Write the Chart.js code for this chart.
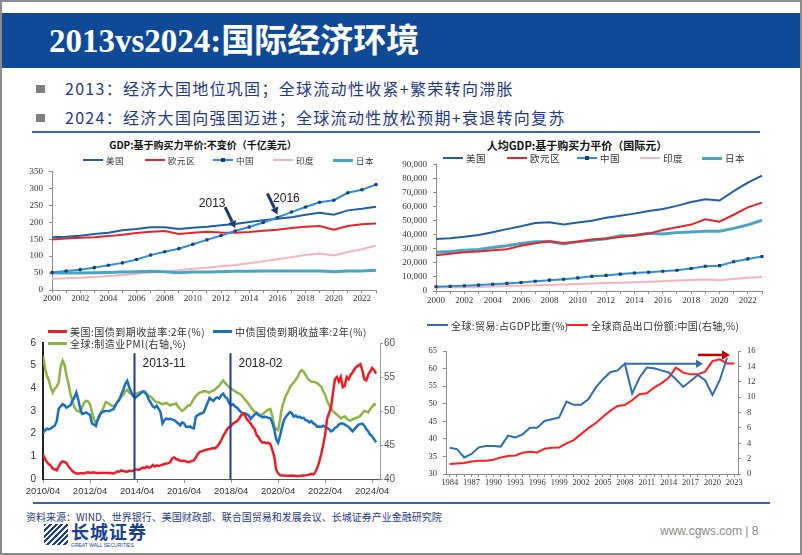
<!DOCTYPE html>
<html lang="zh-CN">
<head>
<meta charset="utf-8">
<title>2013vs2024:国际经济环境</title>
<script src="https://cdn.jsdelivr.net/npm/chart.js@4.4.1/dist/chart.umd.min.js"></script>
<style>
  body { margin: 0; background: #fff; }
  #slide { position: relative; width: 802px; height: 555px; overflow: hidden; background: #fff;
           font-family: "Noto Sans CJK SC", "Liberation Sans", sans-serif; }
  #frame { position: absolute; left: 0; top: 0; width: 802px; height: 555px; box-sizing: border-box;
           border: 2px solid #8c8c8c; z-index: 10; pointer-events: none; }
  #band { position: absolute; left: 0; top: 13px; width: 802px; height: 55px; background: #0e4a98; }
  #band h1 { position: absolute; left: 49px; top: 12px; margin: 0; color: #fff; white-space: nowrap;
             font: bold 33px/33px "Liberation Serif", "Noto Sans CJK SC", serif; }
  .bullet { position: absolute; left: 36px; width: 9px; height: 8px; background: #7f7f7f; }
  .point { position: absolute; left: 65px; font-size: 16px; line-height: 16px; letter-spacing: 1.3px;
           color: #1f3a8a; white-space: nowrap; }
  .rule { position: absolute; height: 2px; background: #3a62b0; }
  canvas { position: absolute; }
  .ctitle { position: absolute; font-weight: bold; color: #111; white-space: nowrap; transform: translateX(-50%); }
  .lg { position: absolute; display: flex; align-items: center; white-space: nowrap; color: #333; }
  .sw { position: relative; display: inline-block; margin-right: 3px; }
  .sw i { position: absolute; left: 50%; top: 50%; width: 4px; height: 4px; margin: -2px 0 0 -2px; }
  #source { position: absolute; left: 26px; top: 511px; font-size: 10px; line-height: 12px; color: #1f3a8a; white-space: nowrap; }
  #logoIcon { position: absolute; left: 44px; top: 524px; width: 24px; height: 21px;
              background: repeating-linear-gradient(135deg, #1b3f8f 0 2px, #fff 2px 4px); }
  #logoText { position: absolute; left: 71px; top: 522px; font: bold 18px/19px "Noto Sans CJK SC", sans-serif;
              color: #1b3f8f; letter-spacing: 1px; }
  #logoEn { position: absolute; left: 71px; top: 542px; font: 5px/6px "Liberation Sans", sans-serif; color: #1b3f8f; }
  #site { position: absolute; left: 660px; top: 523px; font: 12px/16px "Liberation Sans", sans-serif; color: #8a8a8a; }
</style>
</head>
<body>
<div id="slide">
  <div id="band"><h1>2013vs2024:国际经济环境</h1></div>
  <div class="bullet" style="top:85px"></div>
  <div class="point" style="top:80px">2013：经济大国地位巩固；全球流动性收紧+繁荣转向滞胀</div>
  <div class="bullet" style="top:114px"></div>
  <div class="point" style="top:109px">2024：经济大国向强国迈进；全球流动性放松预期+衰退转向复苏</div>
  <div class="rule" style="left:32px; top:131px; width:728px"></div>

  <div class="ctitle" style="left:203px; top:138px; font-size:10px; line-height:14px">GDP:基于购买力平价:不变价（千亿美元）</div>
  <div class="ctitle" style="left:577px; top:138px; font-size:11px; line-height:15px">人均GDP:基于购买力平价（国际元）</div>

  <canvas id="gdpChart" width="365" height="145" style="left:20px; top:160px"></canvas>
  <canvas id="pcChart" width="375" height="152" style="left:400px; top:153px"></canvas>
  <canvas id="bondChart" width="380" height="170" style="left:20px; top:330px"></canvas>
  <canvas id="tradeChart" width="350" height="150" style="left:410px; top:340px"></canvas>

  <div id="legends"></div>

  <div class="rule" style="left:33px; top:502px; width:737px"></div>
  <div id="source">资料来源：WIND、世界银行、美国财政部、联合国贸易和发展会议、长城证券产业金融研究院</div>
  <div id="logoIcon"></div>
  <div id="logoText">长城证券</div>
  <div id="logoEn">GREAT WALL SECURITIES</div>
  <div id="site">www.cgws.com | 8</div>
  <div id="frame"></div>
</div>

<script>
// ---------- data ----------
const years = ['2000','2001','2002','2003','2004','2005','2006','2007','2008','2009','2010','2011',
               '2012','2013','2014','2015','2016','2017','2018','2019','2020','2021','2022','2023'];

// GDP, PPP constant prices (100 bn USD)
const gdpUS    = [156,157,160,165,169,176,180,185,185,180,184,187,191,195,201,206,210,215,222,228,222,235,240,246];
const gdpEuro  = [149,152,154,156,159,163,168,172,174,165,169,172,170,169,171,175,178,183,187,189,178,189,194,196];
const gdpChina = [52,56,60,66,73,80,90,103,113,122,135,148,161,174,186,199,214,230,245,259,265,287,296,311];
const gdpIndia = [33,35,36,38,41,44,48,52,54,58,63,66,70,74,79,85,91,97,103,108,102,112,120,131];
const gdpJapan = [50,50,50,51,52,53,54,55,54,51,53,53,54,55,55,56,56,56,56,56,54,56,56,58];
const calloutYears = ['2013', '2016'];

// GDP per capita, PPP (international $)
const pcUS    = [37000,37500,38500,39800,41800,44000,46000,48300,48800,47300,48700,50000,
                 52000,53500,55000,56800,58300,60500,63200,65200,64300,71000,77000,82000];
const pcEuro  = [25500,26500,27500,28000,29000,29700,32200,34000,35300,34200,35000,36600,
                 37300,38400,39600,40800,43300,45300,47200,51000,49300,54200,59500,62800];
const pcChina = [3000,3300,3700,4200,4800,5400,6000,6900,7700,8400,9300,10400,
                 11100,12000,12800,13300,14000,14800,16000,17600,18000,20800,22800,24500];
const pcIndia = [2500,2600,2700,2900,3200,3500,3800,4100,4300,4600,5000,5400,
                 5600,5900,6200,6600,7000,7400,7800,8100,7600,8600,9400,10000];
const pcJapan = [27500,28000,29000,29500,31000,32200,33700,35000,35200,33500,35100,36000,
                 37200,39300,39500,41000,40500,41500,42000,42500,42500,44500,47000,50300];

// monthly from 2010/04 to 2024/06 (171 points each)
const bondTicks = ['2010/04','2012/04','2014/04','2016/04','2018/04','2020/04','2022/04','2024/04'];
const usYield = [
  1.07,0.9,0.74,0.65,0.58,0.45,0.42,0.38,0.55,0.7,
  0.78,0.75,0.7,0.55,0.45,0.35,0.28,0.24,0.24,0.25,
  0.25,0.24,0.28,0.3,0.28,0.28,0.3,0.26,0.26,0.26,
  0.28,0.27,0.26,0.26,0.26,0.25,0.24,0.28,0.34,0.32,
  0.38,0.35,0.33,0.32,0.36,0.35,0.36,0.42,0.42,0.4,
  0.46,0.5,0.48,0.55,0.5,0.52,0.62,0.55,0.6,0.58,
  0.6,0.63,0.66,0.68,0.7,0.75,0.92,0.95,0.88,0.85,
  0.8,0.8,0.8,0.78,0.74,0.76,0.8,0.82,0.95,1.1,
  1.2,1.22,1.25,1.28,1.3,1.32,1.35,1.36,1.36,1.45,
  1.55,1.72,1.9,2.05,2.2,2.28,2.35,2.45,2.5,2.55,
  2.65,2.8,2.88,2.82,2.65,2.55,2.45,2.3,2.2,1.95,
  1.85,1.7,1.6,1.62,1.58,1.6,1.55,1.3,1.0,0.4,
  0.25,0.17,0.15,0.15,0.14,0.14,0.14,0.15,0.14,0.13,
  0.12,0.13,0.14,0.15,0.16,0.17,0.2,0.22,0.2,0.3,
  0.5,0.75,1.1,1.5,1.95,2.65,2.9,3.15,3.8,4.4,
  4.5,4.3,4.5,4.05,4.1,4.5,4.4,4.6,4.7,4.85,
  4.95,5.0,5.07,4.8,4.4,4.35,4.6,4.75,4.9,4.8,
  4.65];
const cnYield = [
  2.02,2.15,2.22,2.2,2.22,2.3,2.35,2.55,3.1,3.2,
  3.3,3.25,3.15,3.2,3.25,3.45,3.6,3.82,3.5,3.1,
  2.87,2.9,2.94,2.88,2.83,2.45,2.4,2.33,2.65,2.85,
  2.94,2.98,3.0,3.0,3.0,3.05,3.08,3.25,3.4,3.5,
  3.75,3.94,4.2,4.33,4.05,3.85,3.65,3.58,3.65,3.72,
  3.8,3.87,3.8,3.72,3.5,3.37,3.2,3.15,3.23,3.1,
  2.94,2.45,2.6,2.66,2.64,2.66,2.62,2.6,2.52,2.45,
  2.37,2.5,2.45,2.3,2.3,2.32,2.26,2.23,2.75,2.82,
  2.87,2.9,2.94,3.15,3.35,3.58,3.5,3.45,3.55,3.6,
  3.55,3.7,3.77,3.62,3.55,3.35,3.25,3.3,3.2,3.15,
  3.05,2.95,2.9,2.9,2.85,2.8,2.65,2.75,2.85,2.9,
  2.82,2.78,2.72,2.75,2.73,2.7,2.68,2.5,2.2,1.75,
  1.6,1.9,2.3,2.6,2.75,2.85,2.95,2.9,2.75,2.8,
  2.72,2.75,2.68,2.7,2.6,2.58,2.5,2.55,2.45,2.4,
  2.3,2.32,2.3,2.35,2.3,2.25,2.2,2.1,2.15,2.25,
  2.3,2.4,2.45,2.45,2.4,2.35,2.3,2.2,2.1,2.2,
  2.3,2.4,2.42,2.44,2.35,2.2,2.1,1.95,1.88,1.75,
  1.62];
const globalPMI = [
  58.1,56.4,55.2,54.5,53.4,52.7,53.3,53.6,54.2,56.5,
  57.4,56.8,55.2,54,52.5,51.5,50.6,50.1,50,49.8,
  50.6,51.2,51.5,51.4,51,49.8,48.8,48.2,48.7,49.3,
  50,50.6,51.3,51.2,51,50.8,50.7,50.9,51.3,51.8,
  52.1,52.4,52.9,53.1,52.7,52.5,52.4,52.5,52.6,52.7,
  52.8,52.8,52.9,52.5,52.2,52.1,51.8,51.5,51.3,51.3,
  51.1,51,51.1,51.2,51,50.8,51,51,51.1,50.6,
  50.3,50,50.2,50.5,50.8,50.8,51.3,51.8,52.2,52.5,
  52.7,52.8,52.9,52.9,52.8,52.7,52.9,53,53.2,53.5,
  53.7,54.2,54.5,54.1,53.8,53.5,53.3,53.1,52.9,52.7,
  52.6,52.4,52.1,51.7,51.4,51,50.6,50.2,49.9,49.8,
  49.6,49.4,49.5,49.8,50,50.2,50.3,49.3,47.8,47.3,
  47.2,48.8,50.5,51.5,52.3,52.8,53.5,53.9,54.2,54.6,
  55,55.7,56,55.8,55.3,54.8,54.5,54.3,54.3,54.2,
  54.1,53.8,53.6,52.9,52.4,51.5,50.9,50.3,50,49.7,
  49.5,49.2,48.9,49.1,49.2,48.9,48.7,48.6,48.8,48.9,
  49,49.1,49.3,49.7,50,49.9,49.8,50.3,50.6,51,
  50.9];
const policyMarks = ['2013-11', '2018-02'];
const policyMarkAt = [46.5, 95.5];   // month index where the marker lines sit

// trade share of GDP (%) and China share of world goods exports (%)
const tradeYears = ['1984','1985','1986','1987','1988','1989','1990','1991','1992','1993',
                    '1994','1995','1996','1997','1998','1999','2000','2001','2002','2003',
                    '2004','2005','2006','2007','2008','2009','2010','2011','2012','2013',
                    '2014','2015','2016','2017','2018','2019','2020','2021','2022','2023'];
const tradeGDP = [37.5,37.1,34.7,35.7,37.6,38.0,38.0,37.8,40.9,40.4,
                  41.3,43.2,43.2,45.1,45.6,46.1,50.6,49.7,49.7,51.3,
                  54.6,57.0,59.0,59.5,61.4,52.9,57.4,60.3,60.1,59.5,
                  58.9,57.0,54.8,56.5,58.2,56.7,52.5,56.7,63.1,null];
const chinaShare = [1.3,1.38,1.43,1.64,1.73,1.73,1.86,2.16,2.33,2.42,
                    2.77,2.9,2.81,3.29,3.42,3.46,3.98,4.41,5.19,5.97,
                    6.62,7.44,8.22,8.86,8.99,9.6,10.38,10.51,11.24,11.8,
                    12.54,13.84,13.19,12.97,12.97,13.32,14.7,14.92,14.4,14.4];

// ---------- styling ----------
const C = {
    us: '#1f5fa6', euro: '#e3262b', china: '#2b8fdc', chinaMark: '#1f3f73',
    india: '#f6b3bc', japan: '#48a6c2',
    red: '#ee1c24', blue: '#1b6fc0', green: '#8fb446',
    tBlue: '#2f6db3', tRed: '#ff1f1f', arrow: '#1f3a6e'
};
const serif = 'Liberation Serif';
const sans = 'Liberation Sans';

Chart.defaults.font.family = serif;
Chart.defaults.color = '#333';

function ds(label, data, color, width, yAxisID) {
    return {
        label: label, data: data, borderColor: color, backgroundColor: color,
        borderWidth: width, pointRadius: 0, tension: 0, yAxisID: yAxisID || 'y'
    };
}

function drawArrow(ctx, x0, y0, x1, y1, color, width, head) {
    const ang = Math.atan2(y1 - y0, x1 - x0);
    const bx = x1 - head * Math.cos(ang), by = y1 - head * Math.sin(ang);
    const w = head * 0.6;
    ctx.save();
    ctx.strokeStyle = color;
    ctx.fillStyle = color;
    ctx.lineWidth = width;
    ctx.beginPath();
    ctx.moveTo(x0, y0);
    ctx.lineTo(bx, by);
    ctx.stroke();
    ctx.beginPath();
    ctx.moveTo(x1, y1);
    ctx.lineTo(bx + w * Math.sin(ang), by - w * Math.cos(ang));
    ctx.lineTo(bx - w * Math.sin(ang), by + w * Math.cos(ang));
    ctx.closePath();
    ctx.fill();
    ctx.restore();
}

function baseOptions(padding) {
    return {
        responsive: false,
        animation: false,
        devicePixelRatio: 1,
        layout: { padding: padding },
        plugins: { legend: { display: false }, tooltip: { enabled: false } }
    };
}

function sideAxis(min, max, step, width, font, extra) {
    return Object.assign({
        min: min, max: max,
        grid: { drawOnChartArea: false, tickLength: 3, color: '#8c8c8c' },
        border: { color: '#8c8c8c' },
        ticks: { stepSize: step, padding: 6, font: font, color: '#333' },
        afterFit: function(s) { s.width = width; }
    }, extra || {});
}

// ---------- legends (html) ----------
function placeLegend(items, lefts, top, fontSize, swatchW, spacing) {
    const host = document.getElementById('legends');
    items.forEach(function(it, i) {
        const el = document.createElement('div');
        el.className = 'lg';
        el.style.left = lefts[i] + 'px';
        el.style.top = (top - 8) + 'px';
        el.style.height = '16px';
        el.style.fontSize = fontSize + 'px';
        el.style.letterSpacing = (spacing || 0) + 'px';
        const sw = document.createElement('span');
        sw.className = 'sw';
        sw.style.width = swatchW + 'px';
        sw.style.height = it.width + 'px';
        sw.style.background = it.color;
        if (it.marker) {
            const m = document.createElement('i');
            m.style.background = it.marker;
            sw.appendChild(m);
        }
        el.appendChild(sw);
        el.appendChild(document.createTextNode(it.label));
        host.appendChild(el);
    });
}

document.addEventListener('DOMContentLoaded', function() {
    initGdpChart();
    initPerCapitaChart();
    initBondChart();
    initTradeChart();

    placeLegend([
        { label: '美国', color: C.us, width: 2 },
        { label: '欧元区', color: C.euro, width: 2 },
        { label: '中国', color: C.china, width: 2, marker: C.chinaMark },
        { label: '印度', color: C.india, width: 2 },
        { label: '日本', color: C.japan, width: 3 }
    ], [83, 145, 213, 273, 333], 160, 8.5, 20, 0.6);

    placeLegend([
        { label: '美国', color: C.us, width: 2 },
        { label: '欧元区', color: C.euro, width: 2 },
        { label: '中国', color: C.china, width: 2, marker: C.chinaMark },
        { label: '印度', color: C.india, width: 2 },
        { label: '日本', color: C.japan, width: 3 }
    ], [443, 507, 577, 640, 702], 158, 9.5, 20, 0.6);

    placeLegend([
        { label: '美国:国债到期收益率:2年(%)', color: C.red, width: 3 },
        { label: '中债国债到期收益率:2年(%)', color: C.blue, width: 3 }
    ], [48, 213], 331, 10, 19, 0.5);
    placeLegend([
        { label: '全球:制造业PMI(右轴,%)', color: C.green, width: 3 }
    ], [48], 343, 10, 19, 0.5);

    placeLegend([
        { label: '全球:贸易:占GDP比重(%)', color: C.tBlue, width: 2 },
        { label: '全球商品出口份额:中国(右轴,%)', color: C.tRed, width: 2 }
    ], [427, 567], 325, 10, 21, 0.4);
});

function initGdpChart() {
    const font = { family: serif, size: 9 };
    const china = ds('中国', gdpChina, C.china, 2);
    china.pointRadius = 1.8;
    china.pointBackgroundColor = C.chinaMark;
    china.pointBorderWidth = 0;

    const calloutPlugin = {
        id: 'callouts',
        afterDatasetsDraw(chart) {
            const ctx = chart.ctx, x = chart.scales.x, y = chart.scales.y;
            const textOffset = { '2013': [-23, -24], '2016': [9, -16] };
            calloutYears.forEach(function(yr) {
                const i = years.indexOf(yr);
                const tx = x.getPixelForValue(i), ty = y.getPixelForValue(gdpChina[i]) - 3;
                drawArrow(ctx, tx - 10, ty - 21, tx, ty, C.arrow, 3, 7);
                ctx.save();
                ctx.font = '12px ' + sans;
                ctx.fillStyle = '#222';
                ctx.textAlign = 'center';
                ctx.textBaseline = 'middle';
                ctx.fillText(yr, tx + textOffset[yr][0], ty + textOffset[yr][1]);
                ctx.restore();
            });
        }
    };

    new Chart(document.getElementById('gdpChart'), {
        type: 'line',
        data: {
            labels: years,
            datasets: [
                china,
                ds('美国', gdpUS, C.us, 2),
                ds('欧元区', gdpEuro, C.euro, 2),
                ds('日本', gdpJapan, C.japan, 3),
                ds('印度', gdpIndia, C.india, 2)
            ]
        },
        options: Object.assign(baseOptions({ top: 7, right: 9 }), {
            scales: {
                x: {
                    offset: false,
                    grid: { drawOnChartArea: false, tickLength: 3, color: '#8c8c8c' },
                    border: { color: '#8c8c8c' },
                    ticks: {
                        autoSkip: false, maxRotation: 0, padding: 0, font: font, color: '#333',
                        callback: function(v, i) { return i % 2 === 0 ? this.getLabelForValue(v) : ''; }
                    },
                    afterFit: function(s) { s.height = 15; }
                },
                y: sideAxis(0, 350, 50, 32, font)
            }
        }),
        plugins: [calloutPlugin]
    });
}

function initPerCapitaChart() {
    const font = { family: serif, size: 9 };
    const china = ds('中国', pcChina, C.china, 2);
    china.pointRadius = 2.2;
    china.pointStyle = 'rect';
    china.pointBackgroundColor = C.chinaMark;
    china.pointBorderWidth = 0;

    const yAxis = sideAxis(0, 90000, 10000, 36, font);
    yAxis.ticks.callback = function(v) { return v.toLocaleString('en-US'); };

    new Chart(document.getElementById('pcChart'), {
        type: 'line',
        data: {
            labels: years,
            datasets: [
                ds('美国', pcUS, C.us, 2),
                ds('欧元区', pcEuro, C.euro, 2),
                china,
                ds('日本', pcJapan, C.japan, 3),
                ds('印度', pcIndia, C.india, 2)
            ]
        },
        options: Object.assign(baseOptions({ top: 8, right: 13 }), {
            scales: {
                x: {
                    offset: false,
                    grid: { drawOnChartArea: false, tickLength: 3, color: '#8c8c8c' },
                    border: { color: '#8c8c8c' },
                    ticks: {
                        autoSkip: false, maxRotation: 0, padding: 1, font: font, color: '#333',
                        callback: function(v, i) { return i % 2 === 0 ? this.getLabelForValue(v) : ''; }
                    },
                    afterFit: function(s) { s.height = 14; }
                },
                y: yAxis
            }
        })
    });
}

function initBondChart() {
    const font = { family: sans, size: 10 };
    const toPoints = function(arr) { return arr.map(function(v, i) { return { x: i, y: v }; }); };

    const markPlugin = {
        id: 'policyMarks',
        afterDatasetsDraw(chart) {
            const ctx = chart.ctx, x = chart.scales.x, y = chart.scales.y;
            ctx.save();
            policyMarks.forEach(function(label, i) {
                const px = Math.round(x.getPixelForValue(policyMarkAt[i])) + 0.5;
                ctx.strokeStyle = '#1f3a8a';
                ctx.lineWidth = 2;
                ctx.beginPath();
                ctx.moveTo(px, y.getPixelForValue(5.55));
                ctx.lineTo(px, chart.chartArea.bottom);
                ctx.stroke();
                ctx.font = '12px ' + sans;
                ctx.fillStyle = '#222';
                ctx.textBaseline = 'middle';
                ctx.fillText(label, px + 8, y.getPixelForValue(5.07));
            });
            ctx.restore();
        }
    };

    new Chart(document.getElementById('bondChart'), {
        type: 'line',
        data: {
            datasets: [
                ds('美国:国债到期收益率:2年(%)', toPoints(usYield), C.red, 2.5),
                ds('中债国债到期收益率:2年(%)', toPoints(cnYield), C.blue, 2.5),
                ds('全球:制造业PMI(右轴,%)', toPoints(globalPMI), C.green, 2.5, 'y1')
            ]
        },
        options: Object.assign(baseOptions({ top: 8, right: 0 }), {
            scales: {
                x: {
                    type: 'linear', min: 0, max: 172,
                    grid: { drawOnChartArea: false, tickLength: 4, color: '#999' },
                    border: { color: '#555' },
                    ticks: {
                        stepSize: 24, includeBounds: false, autoSkip: false, maxRotation: 0, padding: 3,
                        font: { family: sans, size: 9.5 }, color: '#333',
                        callback: function(v) { return v % 24 === 0 ? bondTicks[v / 24] : ''; }
                    },
                    afterFit: function(s) { s.height = 21; }
                },
                y: {
                    min: 0, max: 6,
                    grid: { drawOnChartArea: false, drawTicks: false },
                    border: { color: '#222', width: 2 },
                    ticks: { stepSize: 1, padding: 7, font: font, color: '#333' },
                    afterFit: function(s) { s.width = 23; }
                },
                y1: {
                    position: 'right', min: 40, max: 60,
                    grid: { drawOnChartArea: false, tickLength: 3, color: '#999' },
                    border: { color: '#999' },
                    ticks: { stepSize: 5, padding: 1, font: font, color: '#555' },
                    afterFit: function(s) { s.width = 20; }
                }
            }
        }),
        plugins: [markPlugin]
    });
}

function initTradeChart() {
    const font = { family: serif, size: 8.5 };

    const arrowPlugin = {
        id: 'tradeArrows',
        afterDatasetsDraw(chart) {
            const ctx = chart.ctx, x = chart.scales.x, y = chart.scales.y, y1 = chart.scales.y1;
            const i08 = tradeYears.indexOf('2008');
            const by = y.getPixelForValue(tradeGDP[i08]);
            drawArrow(ctx, x.getPixelForValue(i08), by, x.getPixelForValue(34.7), by, C.tBlue, 2, 7);
            const ry = y1.getPixelForValue(15.5);
            drawArrow(ctx, x.getPixelForValue(34.0), ry, x.getPixelForValue(38.4), ry, '#c00000', 2.5, 8);
        }
    };

    new Chart(document.getElementById('tradeChart'), {
        type: 'line',
        data: {
            labels: tradeYears,
            datasets: [
                ds('全球:贸易:占GDP比重(%)', tradeGDP, C.tBlue, 2),
                ds('全球商品出口份额:中国(右轴,%)', chinaShare, C.tRed, 2, 'y1')
            ]
        },
        options: Object.assign(baseOptions({ top: 9, right: 0 }), {
            scales: {
                x: {
                    offset: true,
                    grid: { drawOnChartArea: false, tickLength: 3, color: '#8c8c8c' },
                    border: { color: '#8c8c8c' },
                    ticks: {
                        autoSkip: false, maxRotation: 0, padding: 1, font: font, color: '#333',
                        callback: function(v, i) { return i % 3 === 0 ? this.getLabelForValue(v) : ''; }
                    },
                    afterFit: function(s) { s.height = 16; }
                },
                y: sideAxis(30, 65, 5, 36, font),
                y1: sideAxis(0, 16, 2, 22, font, { position: 'right' })
            }
        }),
        plugins: [arrowPlugin]
    });
}
</script>
</body>
</html>
